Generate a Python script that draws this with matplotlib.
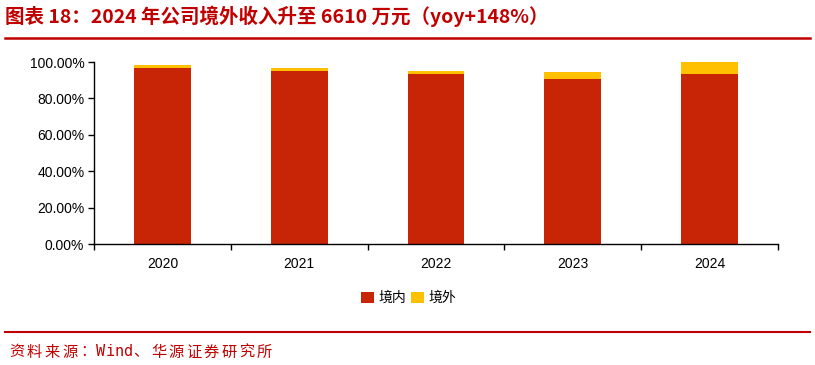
import matplotlib.pyplot as plt
from matplotlib.lines import Line2D
from matplotlib.ticker import FuncFormatter

plt.rcParams['font.family'] = ['Liberation Sans', 'Noto Sans CJK SC', 'DejaVu Sans']

# data (share of revenue, %)
years = ['2020', '2021', '2022', '2023', '2024']
domestic = [96.8, 94.9, 93.4, 90.9, 93.5]
overseas = [1.4, 1.9, 1.7, 3.5, 6.5]
series_names = ['境内', '境外']
title = '图表 18：2024 年公司境外收入升至 6610 万元（yoy+148%）'
source = '资料来源：Wind、华源证券研究所'

RED = '#C82506'
YELLOW = '#FFC000'
TITLE_RED = '#C00000'

fig = plt.figure(figsize=(8.15, 3.65), dpi=100)
ax = fig.add_axes([94 / 815, 1 - 244 / 365, 684 / 815, 182 / 365])

x = range(len(years))
ax.bar(x, domestic, width=0.415, color=RED, label=series_names[0])
ax.bar(x, overseas, width=0.415, bottom=domestic, color=YELLOW, label=series_names[1])

ax.set_xlim(-0.5, len(years) - 0.5)
ax.set_ylim(0, 100)
ax.set_yticks(range(0, 101, 20))
ax.yaxis.set_major_formatter(FuncFormatter(lambda v, p: f'{v:.2f}%'))
ax.set_xticks(list(x))
ax.set_xticklabels(years)
ax.set_xticks([i + 0.5 for i in range(-1, len(years))], minor=True)
ax.tick_params(axis='x', which='major', length=0, pad=9, labelsize=10)
ax.tick_params(axis='x', which='minor', length=4, width=1)
ax.tick_params(axis='y', length=4, width=1, labelsize=10, pad=3)
for s in ['top', 'right']:
    ax.spines[s].set_visible(False)
for s in ['left', 'bottom']:
    ax.spines[s].set_linewidth(1)

ax.legend(loc='upper center', bbox_to_anchor=(0.46, -0.19), ncol=2, frameon=False,
          fontsize=10, handlelength=0.9, handleheight=0.9, handletextpad=0.3,
          columnspacing=0.4)

# title and footer
fig.text(5 / 815, 1 - 16 / 365, title,
         color=TITLE_RED, fontsize=14, fontweight='bold', va='center', ha='left',
         family=['Noto Sans CJK SC', 'DejaVu Sans'])
fig.add_artist(Line2D([5 / 815, 810 / 815], [1 - 38 / 365] * 2, color=TITLE_RED, lw=1.8))
fig.add_artist(Line2D([5 / 815, 810 / 815], [1 - 332 / 365] * 2, color=TITLE_RED, lw=1.5))

# source line: wide, typewriter-like spacing
px = 8.0
for ch in source:
    half = ord(ch) < 128
    fig.text((px + (4.4 if half else 8.85)) / 815, 1 - 352 / 365, ch, color=TITLE_RED,
             fontsize=11, va='center', ha='center',
             family=['DejaVu Sans Mono', 'Noto Sans CJK SC'])
    px += 8.85 if half else 17.7

fig.savefig('out.png', dpi=100)
